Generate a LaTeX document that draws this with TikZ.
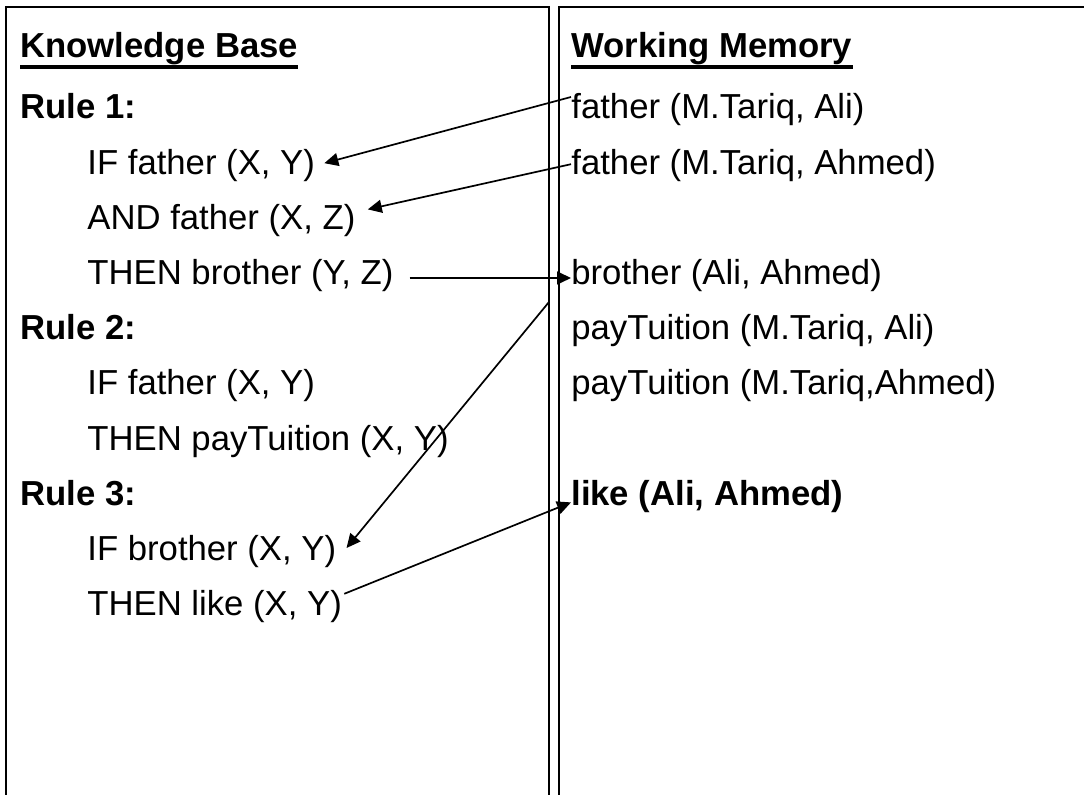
\documentclass[tikz,border=0pt]{standalone}
\usepackage{fontspec}
\setmainfont{Liberation Sans}
\usetikzlibrary{arrows.meta}
\newcommand{\rowfont}{\fontsize{17.35}{20}\selectfont}
\tikzset{
    lbl/.style={anchor=base west, inner sep=0pt, font=\rowfont},
    head/.style={anchor=base west, inner sep=0pt, font=\rowfont\bfseries},
    panel/.style={line width=1pt},
    ulinebar/.style={line width=1.6pt},
    solidarr/.style={-{Triangle[length=7pt,width=6.5pt]}, line width=0.85pt},
}
\begin{document}
\begin{tikzpicture}[x=0.5pt,y=-0.5pt]
\useasboundingbox (0,0) rectangle (1084,795);
\clip (0,0) rectangle (1084,795);
\draw[panel] (6,800) -- (6,7) -- (549,7) -- (549,800);
\draw[panel] (559,800) -- (559,7) -- (1090,7) -- (1090,800);

\node[head] (kb) at (20,58) {Knowledge Base};
\node[head] (wm) at (571,58) {Working Memory};
\draw[ulinebar] ([yshift=-4.5pt]kb.base west) -- ([yshift=-4.5pt]kb.base east);
\draw[ulinebar] ([yshift=-4.5pt]wm.base west) -- ([yshift=-4.5pt]wm.base east);

\node[head] (r1) at (20,119) {Rule 1:};
\node[lbl] (r1if) at (87,174.2) {IF father (X, Y)};
\node[lbl] (r1and) at (87,229.4) {AND father (X, Z)};
\node[lbl] (r1then) at (87,284.6) {THEN brother (Y, Z)};
\node[head] (r2) at (20,339.8) {Rule 2:};
\node[lbl] (r2if) at (87,395) {IF father (X, Y)};
\node[lbl] (r2then) at (87,450.2) {THEN payTuition (X, Y)};
\node[head] (r3) at (20,505.4) {Rule 3:};
\node[lbl] (r3if) at (87,560.6) {IF brother (X, Y)};
\node[lbl] (r3then) at (87,615.8) {THEN like (X, Y)};

\node[lbl] (wmfa) at (571,119) {father (M.Tariq, Ali)};
\node[lbl] (wmfb) at (571,174.2) {father (M.Tariq, Ahmed)};
\node[lbl] (wmbro) at (571,284.6) {brother (Ali, Ahmed)};
\node[lbl] (wmpa) at (571,339.8) {payTuition (M.Tariq, Ali)};
\node[lbl] (wmpb) at (571,395) {payTuition (M.Tariq,Ahmed)};
\node[head] (wmlike) at (571,505.4) {like (Ali, Ahmed)};

\coordinate (kbedge) at (549,302);

\draw[solidarr] ([yshift=11pt]wmfa.base west) -- ([xshift=4.5pt,yshift=5.5pt]r1if.base east);
\draw[solidarr] ([yshift=5pt]wmfb.base west) -- ([xshift=6pt,yshift=10pt]r1and.base east);
\draw[solidarr] ([xshift=8pt,yshift=3.3pt]r1then.base east) -- ([yshift=3.3pt]wmbro.base west);
\draw[solidarr] (kbedge) -- ([xshift=5pt,yshift=6.3pt]r3if.base east);
\draw[solidarr] ([xshift=1pt,yshift=11pt]r3then.base east) -- ([yshift=1.5pt]wmlike.base west);
\end{tikzpicture}
\end{document}
